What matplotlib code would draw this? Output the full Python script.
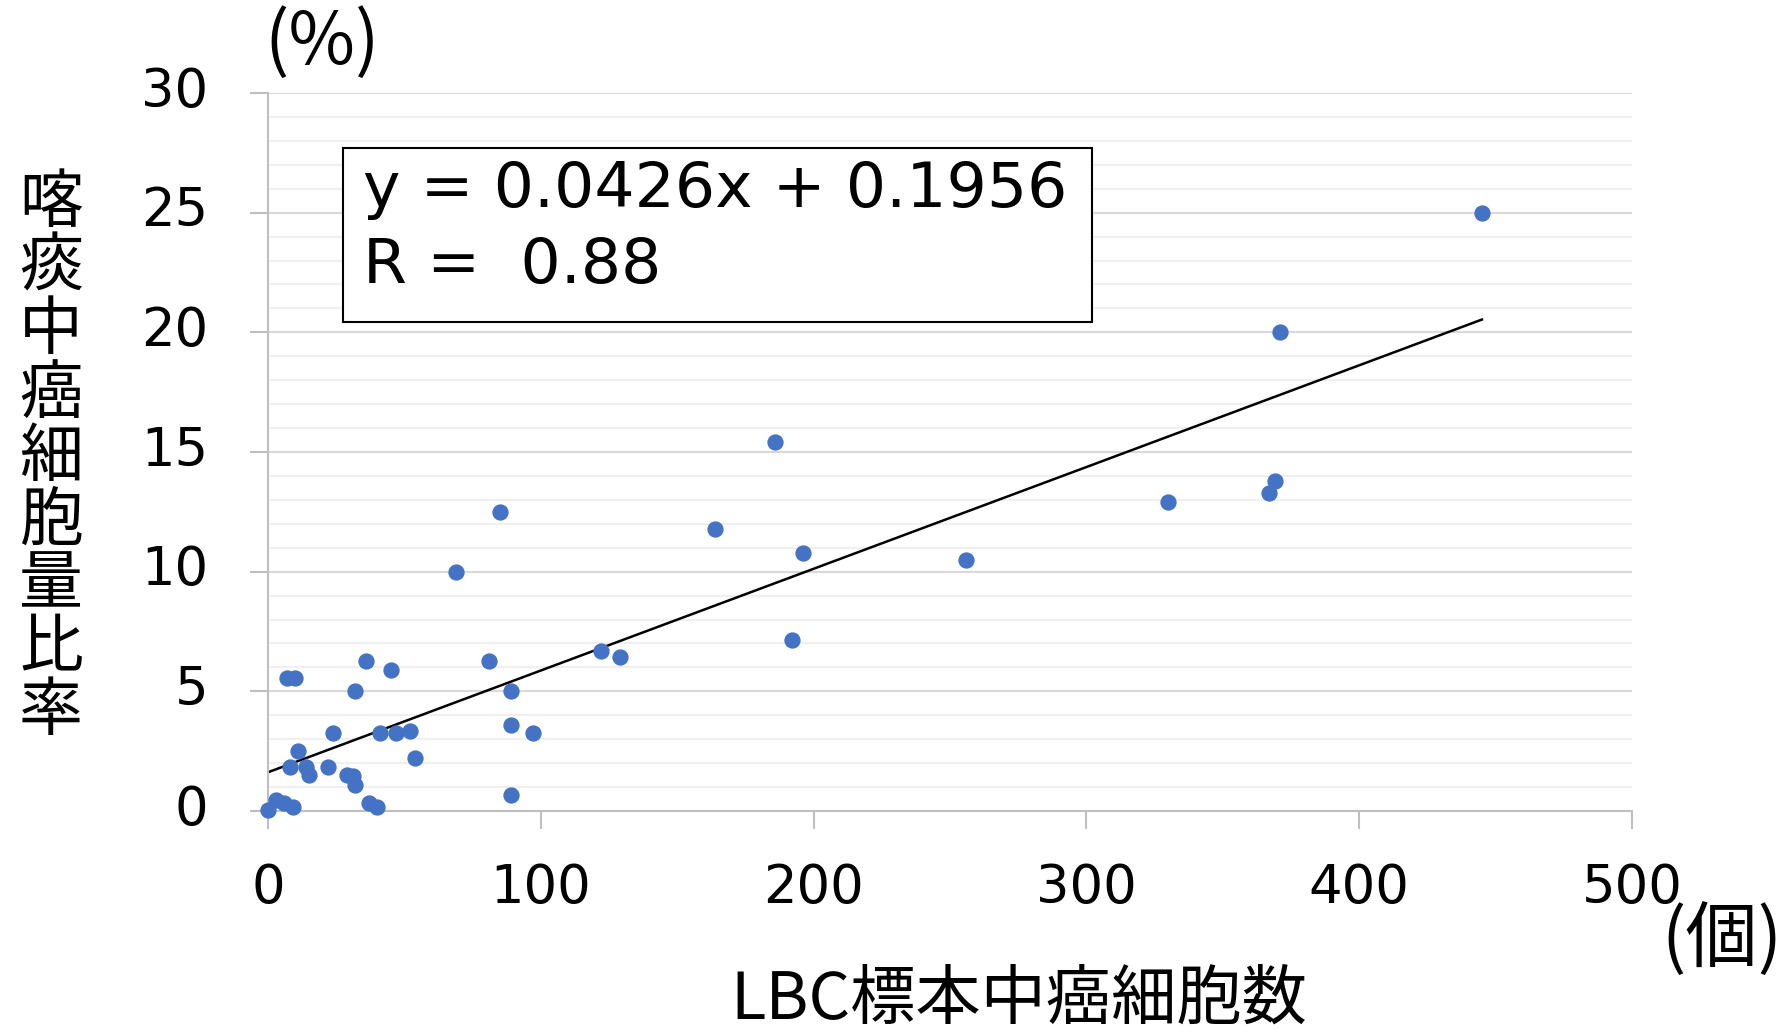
import numpy as np
import matplotlib
matplotlib.use("Agg")
import matplotlib.pyplot as plt
from matplotlib.patches import Rectangle
from matplotlib.transforms import ScaledTranslation

plt.rcParams['font.family'] = ['DejaVu Sans', 'Noto Sans CJK JP']

# LBC標本中癌細胞数 (個) vs 喀痰中癌細胞量比率 (%)
cells = [0, 3, 6, 9, 7, 10, 36, 45, 32, 81, 89, 24, 41, 47, 52, 89, 97,
         11, 8, 14, 15, 22, 29, 31, 32, 54, 37, 40, 89,
         69, 85, 122, 129, 164, 186, 192, 196, 256, 330, 367, 369, 371, 445]
ratio = [0.05, 0.45, 0.35, 0.18, 5.55, 5.55, 6.25, 5.9, 5.0, 6.25, 5.0, 3.25, 3.25, 3.25, 3.35, 3.6, 3.25,
         2.5, 1.85, 1.85, 1.5, 1.85, 1.5, 1.45, 1.1, 2.2, 0.35, 0.15, 0.65,
         10.0, 12.5, 6.7, 6.45, 11.8, 15.4, 7.15, 10.8, 10.5, 12.9, 13.3, 13.8, 20.0, 25.0]
x_ticks = [0, 100, 200, 300, 400, 500]
y_ticks = [0, 5, 10, 15, 20, 25, 30]
eq_text = "y = 0.0426x + 0.1956\nR =  0.88"
y_label = "喀痰中癌細胞量比率"
x_label = "LBC標本中癌細胞数"

fig = plt.figure(figsize=(17.82, 10.30), dpi=100)
ax = fig.add_axes([0.1504, 0.2126, 0.7654, 0.6971])

ax.set_xlim(0, 500)
ax.set_ylim(0, 30)
ax.set_xticks(x_ticks)
ax.set_yticks(y_ticks)
ax.set_yticks(np.arange(0, 31, 1), minor=True)

ax.grid(axis='y', which='major', color='#d9d9d9', lw=1.5, zorder=0)
ax.grid(axis='y', which='minor', color='#f0f0f0', lw=1.5, zorder=0)
ax.tick_params(axis='y', which='minor', length=0)
ax.tick_params(axis='both', which='major', labelsize=38, color='#bfbfbf', width=1.5, length=13)
ax.tick_params(axis='y', which='major', pad=30)
ax.tick_params(axis='x', which='major', pad=24)
# excel puts the y labels a bit above the gridline
for lab in ax.get_yticklabels():
    lab.set_transform(lab.get_transform() + ScaledTranslation(0, 0.07, fig.dpi_scale_trans))

for s in ['top', 'right']:
    ax.spines[s].set_visible(False)
for s in ['left', 'bottom']:
    ax.spines[s].set_color('#bfbfbf')
    ax.spines[s].set_linewidth(1.5)

ax.scatter(cells, ratio, s=115, color='#4472c4', zorder=3, clip_on=False)

# regression line
k, b = np.polyfit(cells, ratio, 1)
xl = np.array([0, max(cells)])
ax.plot(xl, k * xl + b, color='black', lw=1.8, zorder=2)

# equation box
ax.add_patch(Rectangle((0.055, 0.681), 0.549, 0.242, transform=ax.transAxes,
                       fill=True, facecolor='white', edgecolor='black', lw=1.5, zorder=4))
ax.text(0.070, 0.907, eq_text, transform=ax.transAxes, fontsize=45.5,
        va='top', ha='left', linespacing=1.35, zorder=5)

# labels
cjk = ['Noto Sans CJK JP']
fig.text(322 / 1782, 1 - 43 / 1030, "(%)", fontsize=52, ha='center', va='center', family=cjk)
fig.text(1722 / 1782, 1 - 941 / 1030, "(個)", fontsize=52, ha='center', va='center', family=cjk)
fig.text(1019 / 1782, 1 - 1000 / 1030, x_label, fontsize=47, ha='center', va='center', family=cjk)
for i, ch in enumerate(y_label):
    fig.text(51 / 1782, 1 - (204 + i * 63.5) / 1030, ch, fontsize=46, ha='center', va='center',
             family=cjk)

fig.savefig("out.png", dpi=100)
